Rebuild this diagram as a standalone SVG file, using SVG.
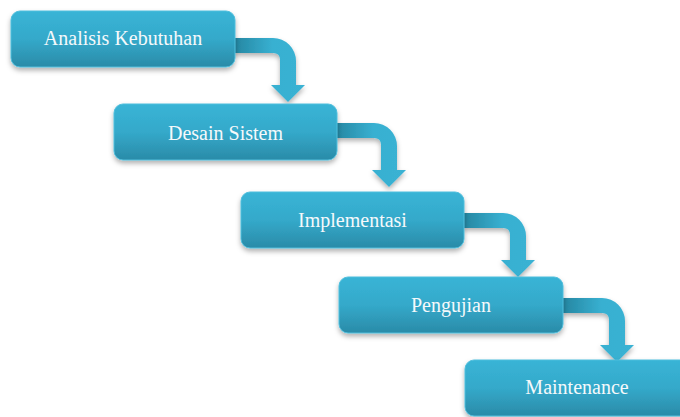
<svg xmlns="http://www.w3.org/2000/svg" width="680" height="417" viewBox="0 0 680 417">
  <defs>
    <linearGradient id="boxGrad" x1="0" y1="0" x2="0" y2="1">
      <stop offset="0" stop-color="#39b4d6"/>
      <stop offset="0.5" stop-color="#34a9ca"/>
      <stop offset="1" stop-color="#2a8ba8"/>
    </linearGradient>
    <linearGradient id="arrowGrad" x1="0" y1="0" x2="1" y2="0">
      <stop offset="0" stop-color="#2585a0"/>
      <stop offset="0.55" stop-color="#38b0d1"/>
      <stop offset="1" stop-color="#3ab2d3"/>
    </linearGradient>
    <filter id="shadow" x="-10%" y="-20%" width="120%" height="150%">
      <feDropShadow dx="0" dy="3" stdDeviation="2.5" flood-color="#000" flood-opacity="0.3"/>
    </filter>
    <path id="bend" d="M 0,0 L 40,0 A 23 23 0 0 1 63,23 L 63,47 L 72,47 L 55,64 L 38,47 L 47,47 L 47,22 Q 47,15 40,15 L 0,15 Z"/>
  </defs>
  <style>
    .box { fill: url(#boxGrad); stroke: #4fbedc; stroke-width: 1; filter: url(#shadow); }
    .arrow { fill: url(#arrowGrad); filter: url(#shadow); }
    .label { font-family: "Liberation Serif", "Times New Roman", serif; font-size: 20px; fill: #f5f9fb; text-anchor: middle; }
  </style>
  <rect width="680" height="417" fill="#ffffff"/>
  <g id="connectors">
    <use href="#bend" class="arrow" transform="translate(233,38)"/>
    <use href="#bend" class="arrow" transform="translate(334,123)"/>
    <use href="#bend" class="arrow" transform="translate(463,213)"/>
    <use href="#bend" class="arrow" transform="translate(562,298)"/>
  </g>
  <g id="node-analisis">
    <rect class="box" x="11" y="11" width="224" height="56" rx="9"/>
    <text class="label" x="123" y="45">Analisis  Kebutuhan</text>
  </g>
  <g id="node-desain">
    <rect class="box" x="114" y="104" width="223" height="56" rx="9"/>
    <text class="label" x="225.5" y="140">Desain Sistem</text>
  </g>
  <g id="node-implementasi">
    <rect class="box" x="241" y="192" width="223" height="56" rx="9"/>
    <text class="label" x="352.5" y="227">Implementasi</text>
  </g>
  <g id="node-pengujian">
    <rect class="box" x="339" y="277" width="224" height="56" rx="9"/>
    <text class="label" x="451" y="312">Pengujian</text>
  </g>
  <g id="node-maintenance">
    <rect class="box" x="465" y="360" width="224" height="56" rx="9"/>
    <text class="label" x="577" y="394">Maintenance</text>
  </g>
</svg>
